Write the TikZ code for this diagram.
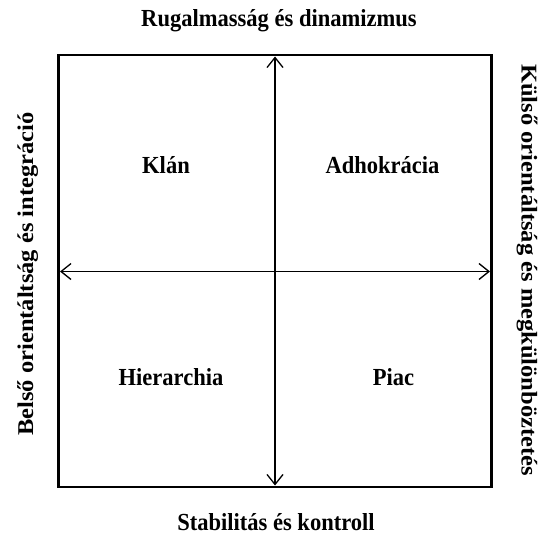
\documentclass[tikz,border=0pt]{standalone}
\usepackage{fontspec}
\usepackage{graphicx}
\setmainfont{Liberation Serif}
\usetikzlibrary{arrows.meta}
\newcommand{\hsq}[1]{\scalebox{0.92}[1]{#1}}
\newcommand{\vsq}[1]{\scalebox{1}[0.92]{#1}}
\begin{document}
\begin{tikzpicture}[x=1pt,y=-1pt,
  lbl/.style={font=\fontsize{24.5}{28}\selectfont\bfseries, inner sep=0pt},
  axis/.style={line width=1.3pt, {Straight Barb[length=10pt,width=16pt,line width=1.3pt]}-{Straight Barb[length=10pt,width=16pt,line width=1.3pt]}}]
\useasboundingbox (0,0) rectangle (539,535);
\draw[line width=2.5pt] (58.5,55) rectangle (491.5,487);
\coordinate (T) at (275,56.5);
\coordinate (B) at (275,485.5);
\coordinate (L) at (60,271.5);
\coordinate (R) at (490,271.5);
\draw[axis] (T) -- (B);
\draw[axis] (L) -- (R);
\node[lbl, anchor=base] (top) at (279,27) {\hsq{Rugalmasság és dinamizmus}};
\node[lbl, anchor=base] (bottom) at (276,530) {\hsq{Stabilitás és kontroll}};
\node[lbl, anchor=base, rotate=90] (left) at (33,274) {\vsq{Belső orientáltság és integráció}};
\node[lbl, anchor=base, rotate=-90] (right) at (521.5,270) {\vsq{Külső orientáltság és megkülönböztetés}};
\node[lbl] (klan) at (166,165) {\hsq{Klán}};
\node[lbl] (adho) at (382.5,165) {\hsq{Adhokrácia}};
\node[lbl] (hier) at (171,377) {\hsq{Hierarchia}};
\node[lbl] (piac) at (393.5,377) {\hsq{Piac}};
\end{tikzpicture}
\end{document}
